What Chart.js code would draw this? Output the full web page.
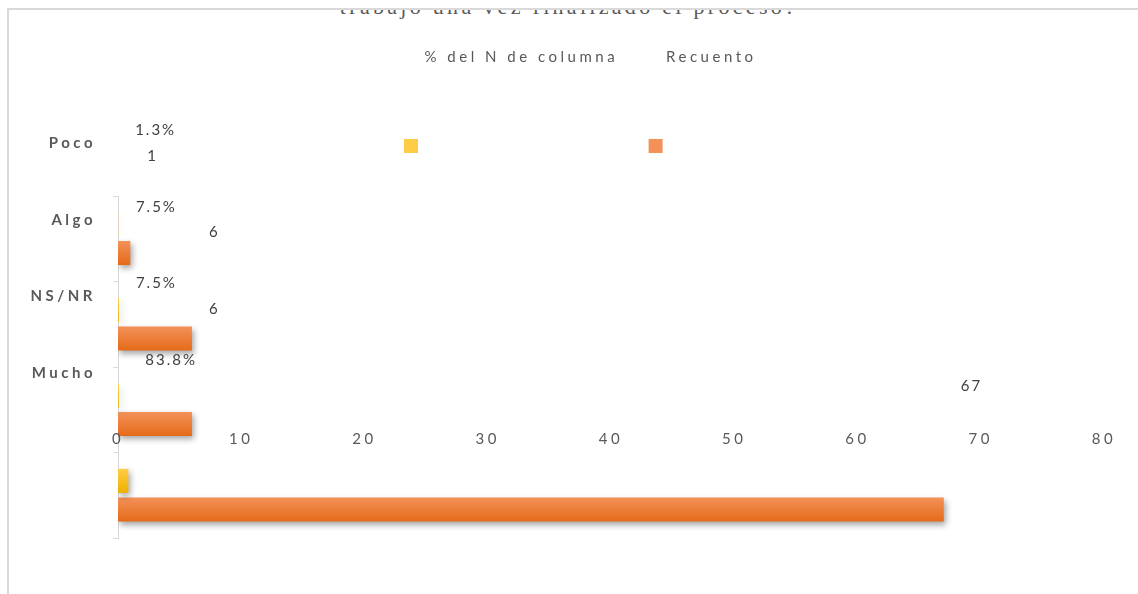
<!DOCTYPE html>
<html>
<head>
<meta charset="utf-8">
<script src="https://cdn.jsdelivr.net/npm/chart.js@4.4.1/dist/chart.umd.min.js"></script>
<style>
  html, body { margin: 0; padding: 0; background: #fff; }
  body { width: 1138px; height: 594px; overflow: hidden; position: relative; }
  #frame { position: absolute; left: 7px; top: 8px; width: 1200px; height: 700px;
           border-top: 2px solid #d9d9d9; border-left: 2px solid #d9d9d9; overflow: hidden; }
  #frame canvas { position: absolute; left: -9px; top: -10px; }
  #title { position: absolute; left: 0; top: -14.4px; width: 1120px; text-align: center;
           font: 22px/22px "Liberation Serif", serif; letter-spacing: 3.3px; color: #595959; white-space: nowrap; }
</style>
</head>
<body>
<div id="frame">
  <div id="title">trabajo una vez finalizado el proceso?</div>
  <canvas id="bars" width="1138" height="594"></canvas>
  <canvas id="labels" width="1138" height="594"></canvas>
</div>
<script>
const categories = ['Poco', 'Algo', 'NS/NR', 'Mucho'];
const seriesNames = ['% del N de columna', 'Recuento'];
const pctValues = [0.013, 0.075, 0.075, 0.838];
const countValues = [1, 6, 6, 67];
const xMin = 0, xMax = 80, xStep = 10;

const textColor = '#595959';
Chart.defaults.font.family = 'Lato';

// light-to-dark fill per bar, like the office bevel
function shade(light, dark, flat) {
  return (c) => {
    const bar = c.chart.getDatasetMeta(c.datasetIndex).data[c.dataIndex];
    if (!bar || !bar.height || isNaN(bar.y)) return flat;
    const g = c.chart.ctx.createLinearGradient(0, bar.y - bar.height / 2, 0, bar.y + bar.height / 2);
    g.addColorStop(0, light);
    g.addColorStop(1, dark);
    return g;
  };
}

const barShadow = {
  id: 'barShadow',
  beforeDatasetsDraw(chart) {
    const ctx = chart.ctx;
    ctx.save();
    ctx.shadowColor = 'rgba(0,0,0,0.35)';
    ctx.shadowBlur = 6;
    ctx.shadowOffsetX = 2;
    ctx.shadowOffsetY = 3;
  },
  afterDatasetsDraw(chart) {
    chart.ctx.restore();
  }
};

const spacing = (px) => ({
  id: 'letterSpacing',
  beforeLayout(chart) { chart.ctx.letterSpacing = px; },
  beforeDraw(chart) { chart.ctx.letterSpacing = px; }
});

const valueLabels = {
  id: 'valueLabels',
  afterDatasetsDraw(chart) {
    const ctx = chart.ctx;
    ctx.save();
    ctx.letterSpacing = '2px';
    ctx.font = '15px Lato';
    ctx.fillStyle = '#404040';
    ctx.textAlign = 'left';
    ctx.textBaseline = 'middle';
    chart.data.datasets.forEach((ds, i) => {
      chart.getDatasetMeta(i).data.forEach((bar, j) => {
        const v = ds.data[j];
        const txt = i === 0 ? (v * 100).toFixed(1) + '%' : String(v);
        ctx.fillText(txt, bar.x + 17, bar.y);
      });
    });
    ctx.restore();
  }
};

const noGrid = { display: false, drawTicks: false };
// empty axes used only to hold space
const spacer = (position, size) => ({
  type: 'linear', position, ticks: { display: false }, grid: noGrid, border: { display: false },
  afterFit: s => { if (position === 'top') s.height = size; else s.width = size; }
});

function makeSets(colors) {
  return [
    { label: seriesNames[0], data: pctValues, backgroundColor: colors[0], xAxisID: 'x', yAxisID: 'y',
      categoryPercentage: 0.67, barPercentage: 0.84 },
    { label: seriesNames[1], data: countValues, backgroundColor: colors[1], xAxisID: 'x', yAxisID: 'y',
      categoryPercentage: 0.67, barPercentage: 0.84 }
  ];
}

// layer 1: the bars, the axis bracket and the legend squares
const barsChart = new Chart(document.getElementById('bars'), {
  type: 'bar',
  data: {
    labels: categories,
    datasets: makeSets([shade('#ffcd45', '#efb000', '#fcbf1a'), shade('#f39159', '#e56a18', '#ec7c30')])
  },
  options: {
    indexAxis: 'y',
    responsive: false,
    animation: false,
    events: [],
    layout: { padding: { left: 32.5, right: 34, top: 46, bottom: 56 } },
    scales: {
      x: { display: false, min: xMin, max: xMax },
      spacer: spacer('top', 32.5),
      y: {
        ticks: { display: false },
        grid: { drawOnChartArea: false, color: '#d9d9d9', tickLength: 5 },
        border: { color: '#d9d9d9' },
        afterFit: s => { s.width = 85.5; }
      }
    },
    plugins: {
      legend: { labels: { boxWidth: 14, boxHeight: 14, padding: 92.5, color: 'rgba(0,0,0,0)', font: { size: 15 } } },
      tooltip: { enabled: false }
    }
  },
  plugins: [barShadow]
});
barsChart.update('none');

// layer 2: category names, tick numbers, legend text and value labels
new Chart(document.getElementById('labels'), {
  type: 'bar',
  data: {
    labels: categories,
    datasets: makeSets(['rgba(0,0,0,0)', 'rgba(0,0,0,0)'])
  },
  options: {
    indexAxis: 'y',
    responsive: false,
    animation: false,
    events: [],
    layout: { padding: { left: 15, right: 10, top: 39.5, bottom: 126.7 } },
    scales: {
      x: {
        min: xMin, max: xMax,
        ticks: { stepSize: xStep, color: textColor, font: { size: 15 }, padding: 19 },
        grid: noGrid,
        border: { display: false }
      },
      y: {
        ticks: { color: textColor, font: { size: 15, weight: 'bold' }, padding: 22 },
        grid: noGrid,
        border: { display: false },
        afterFit: s => { s.width = 103; }
      },
      spacer: spacer('top', 30.2),
      spacerRight: spacer('right', 24)
    },
    plugins: {
      legend: { labels: { boxWidth: 30.5, boxHeight: 14, padding: 10, color: textColor, font: { size: 15 } } },
      tooltip: { enabled: false }
    }
  },
  plugins: [spacing('3.5px'), valueLabels]
});
</script>
</body>
</html>
